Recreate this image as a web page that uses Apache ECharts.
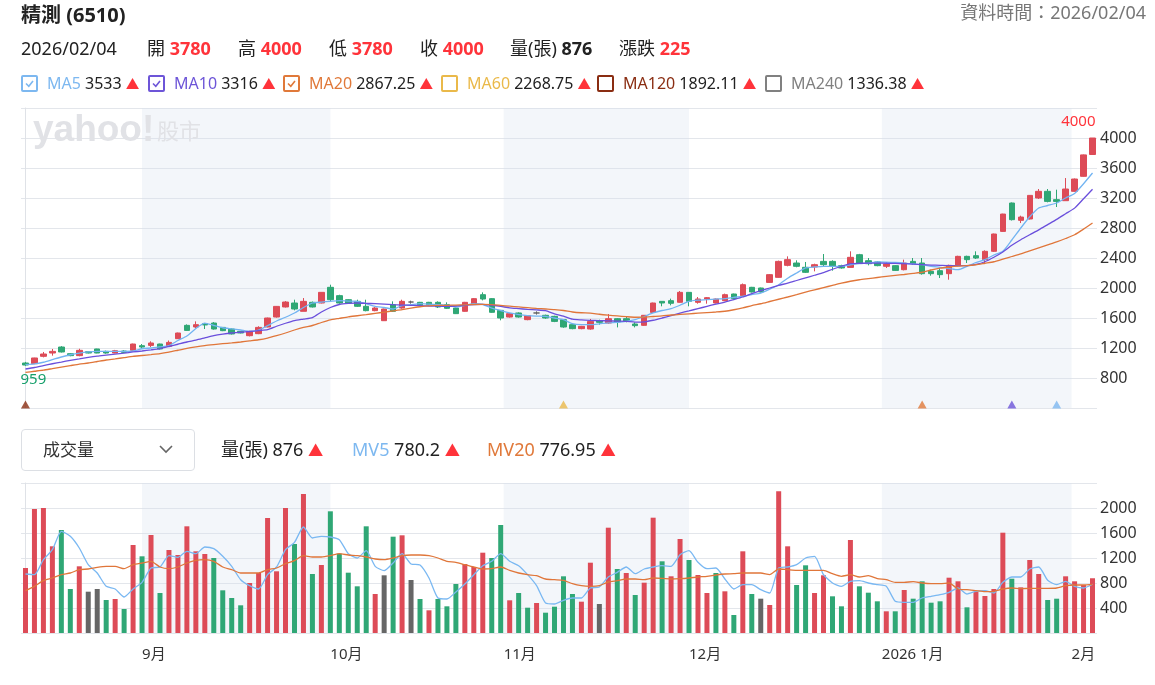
<!DOCTYPE html>
<html>
<head>
<meta charset="utf-8">
<script src="https://cdn.jsdelivr.net/npm/echarts@6/dist/echarts.min.js"></script>
<style>
  body { margin: 0; width: 1155px; height: 685px; position: relative; overflow: hidden; background: #fff;
         font-family: "Noto Sans", "Noto Sans CJK TC", sans-serif; color: #222; }
  #chart { position: absolute; left: 0; top: 0; width: 1155px; height: 685px; }
  .t { position: absolute; white-space: nowrap; line-height: 1; z-index: 2; }
  .up { color: #ff333a; font-weight: bold; }
  .tri { color: #ff333a; font-size: 0.85em; }
  .l2 { font-size: 18px; top: 39px; }
  .l3 { font-size: 16px; top: 75px; }
  .box { display: inline-block; width: 13px; height: 13px; border: 2px solid; border-radius: 2px; vertical-align: -3px;
         margin-right: 9px; position: relative; }
  .box svg { position: absolute; left: 1px; top: 1px; }
  .sel { position: absolute; left: 21px; top: 429px; width: 172px; height: 40px; border: 1px solid #dcdfe4;
         border-radius: 4px; z-index: 2; }
  .s2 { font-size: 18px; top: 440px; }
</style>
</head>
<body>
<div id="chart"></div>

<div class="t" style="left:21px;top:5px;font-size:20px;font-weight:bold">精測 (6510)</div>
<div class="t" style="right:9px;top:3px;font-size:18px;color:#777">資料時間：2026/02/04</div>

<div class="t l2" style="left:21px">2026/02/04</div>
<div class="t l2" style="left:147px">開 <span class="up">3780</span></div>
<div class="t l2" style="left:238px">高 <span class="up">4000</span></div>
<div class="t l2" style="left:329px">低 <span class="up">3780</span></div>
<div class="t l2" style="left:420px">收 <span class="up">4000</span></div>
<div class="t l2" style="left:510px">量(張) <b>876</b></div>
<div class="t l2" style="left:619px">漲跌 <span class="up">225</span></div>

<div class="t l3" style="left:21px"><span class="box" style="border-color:#7db8f0"><svg width="11" height="11"><polyline points="2,5.5 4.8,8.3 9,3" fill="none" stroke="#7db8f0" stroke-width="1.6"/></svg></span><span style="color:#7db8f0">MA5</span> 3533 <span class="tri">▲</span></div>
<div class="t l3" style="left:148px"><span class="box" style="border-color:#6d55d8"><svg width="11" height="11"><polyline points="2,5.5 4.8,8.3 9,3" fill="none" stroke="#6d55d8" stroke-width="1.6"/></svg></span><span style="color:#6d55d8">MA10</span> 3316 <span class="tri">▲</span></div>
<div class="t l3" style="left:283px"><span class="box" style="border-color:#e0793a"><svg width="11" height="11"><polyline points="2,5.5 4.8,8.3 9,3" fill="none" stroke="#e0793a" stroke-width="1.6"/></svg></span><span style="color:#e0793a">MA20</span> 2867.25 <span class="tri">▲</span></div>
<div class="t l3" style="left:441px"><span class="box" style="border-color:#eab94a"></span><span style="color:#eab94a">MA60</span> 2268.75 <span class="tri">▲</span></div>
<div class="t l3" style="left:597px"><span class="box" style="border-color:#8a2d12"></span><span style="color:#8a2d12">MA120</span> 1892.11 <span class="tri">▲</span></div>
<div class="t l3" style="left:765px"><span class="box" style="border-color:#808080"></span><span style="color:#808080">MA240</span> 1336.38 <span class="tri">▲</span></div>

<div class="sel"></div>
<div class="t" style="left:43px;top:441px;font-size:17px;color:#333">成交量</div>
<svg class="t" style="left:159px;top:444px" width="14" height="10"><polyline points="1,2 7,8 13,2" fill="none" stroke="#666" stroke-width="1.6"/></svg>
<div class="t s2" style="left:221px">量(張) 876 <span class="tri">▲</span></div>
<div class="t s2" style="left:352px"><span style="color:#7db8f0">MV5</span> 780.2 <span class="tri">▲</span></div>
<div class="t s2" style="left:487px"><span style="color:#e0793a">MV20</span> 776.95 <span class="tri">▲</span></div>

<script>
// daily candles: [open, close, low, high]
const candles = [
  [1000, 973, 959, 1015], [991, 1067, 985, 1070], [1089, 1120, 1075, 1147], [1133, 1155, 1098, 1187],
  [1213, 1147, 1140, 1225], [1124, 1098, 1090, 1130], [1098, 1169, 1090, 1190], [1151, 1133, 1128, 1155],
  [1187, 1133, 1130, 1190], [1155, 1133, 1124, 1165], [1133, 1164, 1128, 1175], [1160, 1142, 1133, 1170],
  [1169, 1253, 1160, 1258], [1231, 1213, 1187, 1253], [1235, 1267, 1213, 1289], [1253, 1187, 1180, 1258],
  [1222, 1275, 1215, 1300], [1324, 1400, 1320, 1405], [1502, 1435, 1430, 1515], [1480, 1511, 1462, 1555],
  [1524, 1507, 1453, 1533], [1533, 1453, 1445, 1545], [1475, 1431, 1425, 1480], [1453, 1387, 1380, 1460],
  [1422, 1400, 1395, 1425], [1364, 1422, 1355, 1430], [1391, 1475, 1385, 1490], [1480, 1600, 1475, 1605],
  [1613, 1755, 1605, 1760], [1747, 1813, 1740, 1825], [1800, 1720, 1702, 1844], [1689, 1822, 1689, 1866],
  [1809, 1747, 1740, 1820], [1800, 1942, 1795, 1945], [2009, 1844, 1822, 2044], [1898, 1800, 1790, 1910],
  [1844, 1800, 1795, 1850], [1822, 1756, 1747, 1844], [1756, 1698, 1689, 1844], [1698, 1733, 1690, 1745],
  [1564, 1720, 1560, 1725], [1778, 1689, 1680, 1822], [1733, 1822, 1724, 1844], [1813, 1813, 1791, 1831],
  [1809, 1764, 1760, 1815], [1809, 1778, 1770, 1815], [1809, 1747, 1733, 1822], [1778, 1729, 1720, 1809],
  [1733, 1658, 1653, 1740], [1689, 1809, 1685, 1815], [1787, 1858, 1780, 1865], [1911, 1853, 1835, 1942],
  [1858, 1676, 1670, 1865], [1702, 1600, 1569, 1702], [1613, 1658, 1605, 1665], [1667, 1613, 1605, 1675],
  [1578, 1631, 1570, 1635], [1667, 1667, 1645, 1689], [1636, 1600, 1590, 1645], [1622, 1555, 1545, 1630],
  [1578, 1480, 1470, 1585], [1511, 1458, 1450, 1515], [1458, 1489, 1450, 1495], [1453, 1555, 1444, 1587],
  [1564, 1542, 1511, 1578], [1533, 1591, 1524, 1653], [1591, 1547, 1475, 1600], [1591, 1555, 1542, 1613],
  [1520, 1498, 1475, 1542], [1502, 1636, 1495, 1640], [1675, 1800, 1670, 1805], [1822, 1800, 1756, 1825],
  [1831, 1796, 1769, 1858], [1809, 1942, 1805, 1960], [1942, 1822, 1756, 1945], [1809, 1853, 1791, 1880],
  [1853, 1871, 1791, 1880], [1800, 1853, 1795, 1860], [1831, 1911, 1825, 1925], [1920, 1858, 1850, 1925],
  [1898, 2044, 1890, 2060], [2009, 1947, 1940, 2015], [2000, 1947, 1940, 2005], [2075, 2178, 2070, 2185],
  [2142, 2355, 2138, 2365], [2302, 2378, 2289, 2422], [2333, 2289, 2276, 2369], [2276, 2209, 2200, 2347],
  [2280, 2311, 2222, 2324], [2355, 2311, 2289, 2453], [2355, 2289, 2231, 2369], [2298, 2267, 2258, 2310],
  [2275, 2409, 2275, 2489], [2444, 2333, 2325, 2455], [2364, 2324, 2302, 2400], [2347, 2298, 2290, 2355],
  [2289, 2320, 2267, 2342], [2298, 2235, 2228, 2305], [2244, 2333, 2235, 2378], [2355, 2324, 2311, 2400],
  [2333, 2191, 2178, 2400], [2222, 2191, 2164, 2244], [2231, 2178, 2133, 2267], [2191, 2302, 2111, 2311],
  [2298, 2422, 2290, 2430], [2422, 2378, 2333, 2431], [2431, 2400, 2387, 2489], [2378, 2489, 2333, 2502],
  [2489, 2720, 2480, 2725], [2755, 2986, 2750, 2990], [3133, 2911, 2900, 3140], [2902, 2946, 2866, 2964],
  [2920, 3235, 2915, 3240], [3200, 3289, 3187, 3320], [3289, 3155, 3142, 3320], [3178, 3155, 3080, 3311],
  [3164, 3320, 3164, 3466], [3289, 3453, 3285, 3460], [3489, 3775, 3485, 3780], [3780, 4000, 3780, 4000]
];

const ma5 = [978, 987, 1010, 1045, 1080, 1110, 1133, 1148, 1155, 1155, 1155, 1155, 1160, 1190, 1200, 1215, 1231, 1300, 1360, 1460,
  1533, 1500, 1470, 1455, 1440, 1422, 1440, 1498, 1560, 1610, 1667, 1740, 1800, 1812, 1822, 1831, 1825, 1822, 1790, 1756,
  1740, 1720, 1765, 1778, 1791, 1785, 1778, 1770, 1747, 1770, 1791, 1780, 1733, 1700, 1667, 1645, 1631, 1625, 1622, 1600,
  1578, 1524, 1511, 1511, 1522, 1535, 1542, 1555, 1578, 1620, 1667, 1700, 1724, 1770, 1822, 1838, 1844, 1852, 1858, 1875,
  1889, 1912, 1933, 1985, 2044, 2130, 2200, 2267, 2280, 2289, 2289, 2289, 2310, 2324, 2333, 2347, 2345, 2340, 2333, 2322,
  2311, 2290, 2276, 2260, 2244, 2289, 2340, 2378, 2440, 2489, 2640, 2800, 2950, 3067, 3100, 3133, 3200, 3260, 3390, 3533];

const ma10 = [920, 940, 965, 990, 1012, 1035, 1055, 1075, 1092, 1105, 1118, 1132, 1147, 1160, 1175, 1192, 1220, 1250, 1280, 1305,
  1335, 1365, 1385, 1400, 1410, 1420, 1432, 1445, 1490, 1530, 1565, 1585, 1605, 1680, 1740, 1780, 1795, 1800, 1795, 1791,
  1785, 1778, 1773, 1769, 1765, 1760, 1757, 1756, 1760, 1770, 1778, 1782, 1770, 1755, 1735, 1725, 1715, 1708, 1698, 1655,
  1625, 1585, 1575, 1569, 1565, 1562, 1558, 1556, 1545, 1548, 1570, 1600, 1632, 1665, 1695, 1725, 1755, 1785, 1812, 1845,
  1880, 1925, 1965, 2000, 2035, 2065, 2100, 2135, 2170, 2205, 2250, 2290, 2325, 2330, 2333, 2332, 2330, 2328, 2324, 2318,
  2312, 2306, 2302, 2298, 2298, 2298, 2315, 2350, 2410, 2480, 2570, 2644, 2710, 2775, 2845, 2915, 2990, 3065, 3190, 3316];

const ma20 = [875, 890, 905, 925, 945, 965, 985, 1000, 1020, 1040, 1055, 1072, 1089, 1100, 1112, 1125, 1145, 1170, 1195, 1215,
  1232, 1245, 1257, 1267, 1280, 1295, 1310, 1333, 1365, 1400, 1440, 1475, 1500, 1540, 1575, 1595, 1615, 1630, 1645, 1662,
  1678, 1695, 1712, 1733, 1750, 1762, 1767, 1769, 1772, 1776, 1780, 1782, 1778, 1768, 1758, 1748, 1738, 1728, 1720, 1712,
  1700, 1680, 1670, 1666, 1650, 1638, 1628, 1618, 1610, 1612, 1620, 1628, 1640, 1648, 1656, 1664, 1672, 1680, 1690, 1710,
  1735, 1765, 1790, 1820, 1850, 1880, 1912, 1945, 1975, 2005, 2035, 2065, 2090, 2110, 2125, 2140, 2155, 2168, 2180, 2195,
  2210, 2240, 2265, 2280, 2292, 2298, 2310, 2330, 2350, 2385, 2420, 2455, 2495, 2535, 2575, 2615, 2660, 2710, 2785, 2867];

// volume (張) and its direction vs previous close: r up, g down, n flat
const volumes = [1040, 1984, 2000, 1387, 1648, 704, 1067, 661, 704, 528, 544, 384, 1408, 1227, 1568, 640, 1328, 1248, 1707, 1307,
  1264, 1200, 683, 560, 443, 800, 960, 1840, 987, 2000, 1424, 2224, 944, 1088, 1947, 1269, 965, 747, 1707, 624,
  923, 1541, 1563, 848, 544, 363, 544, 427, 784, 1104, 1056, 1285, 1200, 1728, 523, 640, 405, 480, 325, 421,
  907, 624, 501, 1125, 464, 1685, 1024, 960, 608, 805, 1845, 1147, 907, 1504, 1168, 928, 640, 960, 667, 288,
  1307, 624, 549, 448, 2267, 1387, 768, 1083, 640, 923, 587, 427, 1488, 747, 645, 507, 347, 347, 688, 549,
  827, 485, 507, 885, 827, 411, 661, 592, 704, 1605, 869, 731, 1168, 944, 528, 549, 907, 827, 768, 876];

const volDir = ("rrrrggrnng" + "rgrgrgrrrr" + "rggggrrrrr" + "grgrgggggr" + "ngrngrgggr" + "rrggrggrgg" +
  "ggrrnrgrgr" + "rgrrgrrgrg" + "rgnrrrggrr" + "ggrgggrgrg" + "gggrrgrrrr" + "grrrggrrrr").split("");

const mv5 = [944, 933, 1173, 1333, 1627, 1547, 1360, 1093, 960, 747, 704, 576, 704, 811, 1040, 1056, 1237, 1211, 1307, 1269,
  1376, 1349, 1227, 1067, 853, 757, 704, 933, 1056, 1333, 1450, 1696, 1520, 1547, 1536, 1493, 1269, 1200, 1317, 1067,
  997, 1120, 1269, 1104, 1088, 880, 560, 544, 656, 784, 933, 1077, 1147, 1269, 1147, 1077, 933, 757, 480, 464,
  523, 560, 560, 720, 736, 896, 971, 1056, 949, 1024, 1056, 1077, 1067, 1253, 1317, 1131, 1029, 1040, 864, 704,
  773, 773, 693, 640, 1040, 1056, 1093, 1200, 1227, 933, 800, 747, 827, 837, 800, 773, 747, 507, 491, 491,
  560, 587, 613, 651, 720, 624, 667, 677, 640, 811, 896, 896, 1024, 1056, 843, 773, 827, 747, 720, 780];

const mv20 = [677, 747, 837, 880, 933, 960, 1013, 1024, 1051, 1067, 1067, 1029, 1093, 1120, 1147, 1056, 1029, 1056, 1120, 1163,
  1173, 1147, 1056, 1013, 960, 960, 960, 1013, 1040, 1109, 1157, 1237, 1216, 1216, 1237, 1269, 1248, 1237, 1216, 1184,
  1173, 1200, 1237, 1248, 1248, 1237, 1200, 1147, 1131, 1093, 1056, 1024, 1029, 1056, 1003, 960, 933, 917, 864, 853,
  843, 789, 757, 747, 757, 816, 837, 864, 864, 853, 880, 875, 864, 869, 880, 896, 907, 928, 944, 949,
  960, 960, 960, 933, 1024, 1013, 1003, 1003, 1003, 1003, 949, 907, 933, 896, 917, 869, 853, 811, 811, 821,
  800, 789, 789, 800, 704, 693, 677, 661, 667, 704, 720, 709, 715, 715, 715, 720, 757, 768, 768, 777];

// month boundaries, in trading-day index units (calendar 1st of month)
const monthStarts = [13, 34, 53.33, 74, 95.5, 116.67];
const monthLabels = ["9月", "10月", "11月", "12月", "2026 1月", "2月"];

// first day of each moving-average window
const maStartIdx = [0, 60, 100, 110, 115];
const maStartColors = ["#8a2d12", "#eab94a", "#e0793a", "#6d55d8", "#7db8f0"];

const FONT = '"Noto Sans", "Noto Sans CJK TC", sans-serif';
const UP = "#dd4b57", DOWN = "#2fa775", FLAT = "#666666";
const volColor = { r: UP, g: DOWN, n: FLAT };
const N = candles.length;
const cats = candles.map((_, i) => String(i));
const bands = [[monthStarts[0], monthStarts[1]], [monthStarts[2], monthStarts[3]], [monthStarts[4], monthStarts[5]]];

const grids = [
  { left: 21, right: 58, top: 108, height: 300 },
  { left: 21, right: 58, top: 483, height: 150 }
];

function yAxisFor(gridIndex, min, max) {
  return {
    type: "value", gridIndex, position: "right", min, max, interval: 400,
    axisLine: { show: true, lineStyle: { color: "#dfe2e7" } },
    axisTick: { show: false },
    splitLine: { lineStyle: { color: "#e3e6eb" } },
    axisLabel: {
      color: "#333", fontSize: 16, margin: 3, fontFamily: FONT, showMinLabel: false, showMaxLabel: false,
      formatter: v => String(v)
    }
  };
}

function bandSeries(xAxisIndex, yAxisIndex) {
  return {
    type: "line", xAxisIndex, yAxisIndex, data: [], silent: true, z: 0,
    markArea: {
      silent: true, z: 0,
      itemStyle: { color: "rgba(214,226,240,0.3)" },
      data: bands.map(([a, b]) => [{ xAxis: a }, { xAxis: b }])
    }
  };
}

function lineSeries(name, data, color, xAxisIndex, yAxisIndex) {
  return {
    name, type: "line", data, xAxisIndex, yAxisIndex, symbol: "none", smooth: 0.2,
    lineStyle: { color, width: 1.3 }, silent: true, z: 4
  };
}

const chart = echarts.init(document.getElementById("chart"));
chart.setOption({
  animation: false,
  grid: grids,
  graphic: [
    { type: "text", left: 33, top: 112, z: 1, style: { text: "yahoo!", font: 'bold 37px "Liberation Sans", Arial', fill: "#e1e2e6" } },
    { type: "text", left: 157, top: 120, z: 1, style: { text: "股市", font: '22px "Noto Sans CJK TC"', fill: "#e1e2e6" } }
  ],
  xAxis: [
    { type: "category", gridIndex: 0, data: cats, axisLine: { show: false }, axisTick: { show: false }, axisLabel: { show: false } },
    { type: "value", gridIndex: 0, min: -0.5, max: N - 0.5, show: false, position: "top" },
    { type: "category", gridIndex: 1, data: cats, position: "top", axisLine: { show: false }, axisTick: { show: false }, axisLabel: { show: false } },
    {
      type: "value", gridIndex: 1, min: -0.5, max: N - 0.5, position: "bottom",
      splitLine: { show: false }, axisLine: { show: false }, axisTick: { show: false },
      axisLabel: {
        customValues: monthStarts, align: "left", margin: 14, color: "#333", fontSize: 15, fontFamily: FONT,
        formatter: v => monthLabels[monthStarts.indexOf(v)] ?? ""
      }
    }
  ],
  yAxis: [yAxisFor(0, 400, 4400), yAxisFor(1, 0, 2400)],
  series: [
    bandSeries(1, 0),
    {
      type: "candlestick", xAxisIndex: 0, yAxisIndex: 0, data: candles, barWidth: 6, z: 3,
      itemStyle: { color: UP, color0: DOWN, borderColor: UP, borderColor0: DOWN, borderColorDoji: FLAT, borderWidth: 1 },
      markPoint: {
        symbol: "circle", symbolSize: 1, itemStyle: { color: "rgba(0,0,0,0)" },
        data: [
          { type: "max", valueDim: "highest",
            label: { position: "top", distance: 8, align: "right", offset: [3, 0], color: "#ff333a", fontSize: 15, fontFamily: FONT } },
          { type: "min", valueDim: "lowest",
            label: { position: "bottom", distance: 6, align: "left", offset: [-5, 0], color: "#17a06c", fontSize: 15, fontFamily: FONT } }
        ]
      }
    },
    lineSeries("MA5", ma5, "#72b4f2", 0, 0),
    lineSeries("MA10", ma10, "#6a4fdc", 0, 0),
    lineSeries("MA20", ma20, "#e0763a", 0, 0),
    {
      type: "scatter", xAxisIndex: 0, yAxisIndex: 0, symbol: "triangle", symbolSize: [9, 8], silent: true, z: 5,
      data: maStartIdx.map((i, k) => ({ value: [i, 447], itemStyle: { color: maStartColors[k] } }))
    },
    bandSeries(3, 1),
    {
      type: "bar", xAxisIndex: 2, yAxisIndex: 1, barWidth: 5, silent: true, z: 3,
      data: volumes.map((v, i) => ({ value: v, itemStyle: { color: volColor[volDir[i]] } }))
    },
    lineSeries("MV5", mv5, "#7ab8f2", 2, 1),
    lineSeries("MV20", mv20, "#e0763a", 2, 1)
  ]
});
</script>
</body>
</html>
